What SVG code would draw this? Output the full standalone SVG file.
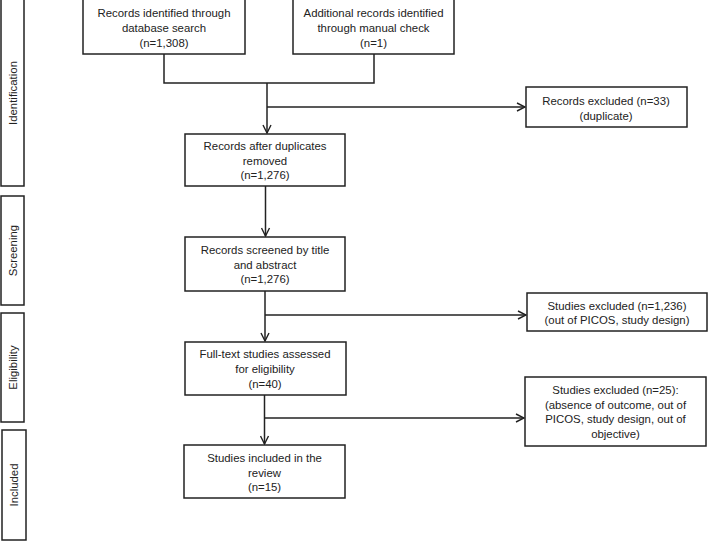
<svg xmlns="http://www.w3.org/2000/svg" width="709" height="541" viewBox="0 0 709 541">
<defs>
<marker id="arr" viewBox="0 0 10 10" refX="9" refY="5" markerWidth="10" markerHeight="10" markerUnits="userSpaceOnUse" orient="auto">
<path d="M1,1 L9,5 L1,9" fill="none" stroke="#222" stroke-width="1.4"/>
</marker>
<style>
.box{fill:#fff;stroke:#222;stroke-width:1.5}
.t{font-family:"Liberation Sans",Arial,sans-serif;font-size:11.4px;fill:#222;text-anchor:middle}
.c{fill:none;stroke:#222;stroke-width:1.5}
</style>
</defs>
<rect width="709" height="541" fill="#fff"/>

<g id="side-identification">
<rect class="box" x="1" y="-1" width="23" height="187"/>
<text class="t" transform="translate(16.5,93) rotate(-90)">Identification</text>
</g>
<g id="side-screening">
<rect class="box" x="1" y="196" width="23" height="109"/>
<text class="t" transform="translate(16.5,250.5) rotate(-90)">Screening</text>
</g>
<g id="side-eligibility">
<rect class="box" x="1" y="313" width="23" height="109"/>
<text class="t" transform="translate(16.5,367.5) rotate(-90)">Eligibility</text>
</g>
<g id="side-included">
<rect class="box" x="2" y="430" width="24" height="110"/>
<text class="t" transform="translate(18,485) rotate(-90)">Included</text>
</g>

<g id="connectors">
<polyline class="c" points="164,54 164,83 374,83 374,54"/>
<line class="c" x1="267" y1="83" x2="267" y2="133" marker-end="url(#arr)"/>
<line class="c" x1="267" y1="107" x2="525" y2="107" marker-end="url(#arr)"/>
<line class="c" x1="265.5" y1="186" x2="265.5" y2="236" marker-end="url(#arr)"/>
<line class="c" x1="265" y1="291" x2="265" y2="341" marker-end="url(#arr)"/>
<line class="c" x1="265" y1="315" x2="526" y2="315" marker-end="url(#arr)"/>
<line class="c" x1="264.5" y1="395" x2="264.5" y2="444" marker-end="url(#arr)"/>
<line class="c" x1="264.5" y1="418" x2="524" y2="418" marker-end="url(#arr)"/>
</g>

<g id="db-search">
<rect class="box" x="83" y="-1" width="162" height="55"/>
<text class="t" x="164" y="17">Records identified through</text>
<text class="t" x="164" y="32">database search</text>
<text class="t" x="164" y="47">(n=1,308)</text>
</g>
<g id="manual-check">
<rect class="box" x="293" y="-1" width="161" height="55"/>
<text class="t" x="373.5" y="17">Additional records identified</text>
<text class="t" x="373.5" y="32">through manual check</text>
<text class="t" x="373.5" y="47">(n=1)</text>
</g>
<g id="after-duplicates">
<rect class="box" x="185" y="134" width="160" height="52"/>
<text class="t" x="265" y="150">Records after duplicates</text>
<text class="t" x="265" y="165">removed</text>
<text class="t" x="265" y="179">(n=1,276)</text>
</g>
<g id="excluded-duplicates">
<rect class="box" x="526" y="87" width="161" height="40"/>
<text class="t" x="606" y="105">Records excluded (n=33)</text>
<text class="t" x="606" y="120">(duplicate)</text>
</g>
<g id="screened">
<rect class="box" x="185" y="237" width="160" height="54"/>
<text class="t" x="265" y="254">Records screened by title</text>
<text class="t" x="265" y="269">and abstract</text>
<text class="t" x="265" y="283">(n=1,276)</text>
</g>
<g id="excluded-screening">
<rect class="box" x="527" y="293" width="180" height="38"/>
<text class="t" x="617" y="310">Studies excluded (n=1,236)</text>
<text class="t" x="617" y="324">(out of PICOS, study design)</text>
</g>
<g id="full-text">
<rect class="box" x="185" y="342" width="161" height="53"/>
<text class="t" x="265" y="358">Full-text studies assessed</text>
<text class="t" x="265" y="373">for eligibility</text>
<text class="t" x="265" y="388">(n=40)</text>
</g>
<g id="excluded-eligibility">
<rect class="box" x="525" y="377" width="181" height="69"/>
<text class="t" x="615.5" y="394">Studies excluded (n=25):</text>
<text class="t" x="615.5" y="408.5">(absence of outcome, out of</text>
<text class="t" x="615.5" y="423">PICOS, study design, out of</text>
<text class="t" x="615.5" y="437.5">objective)</text>
</g>
<g id="included">
<rect class="box" x="184" y="445" width="161" height="53"/>
<text class="t" x="264.5" y="462">Studies included in the</text>
<text class="t" x="264.5" y="477">review</text>
<text class="t" x="264.5" y="491">(n=15)</text>
</g>
</svg>
